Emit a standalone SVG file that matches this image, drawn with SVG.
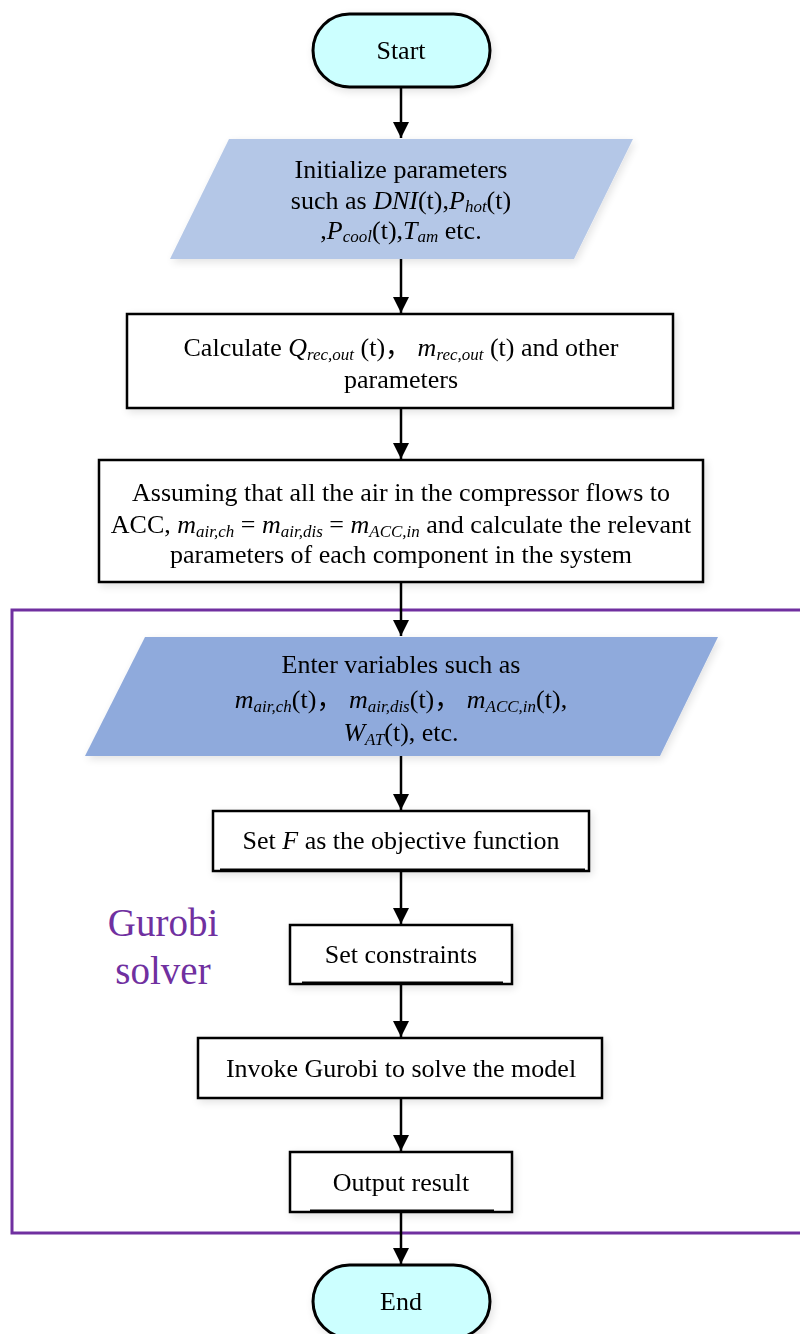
<svg xmlns="http://www.w3.org/2000/svg" width="800" height="1334" viewBox="0 0 800 1334">
<style>
text{font-family:"Liberation Serif","Noto Sans CJK SC",serif;font-size:26px;fill:#000;text-anchor:middle}
.i{font-style:italic}
.s{font-size:17px;font-style:italic}
.term{fill:#CCFFFF;stroke:#000;stroke-width:3}
.box{fill:#fff;stroke:#000;stroke-width:2.5}
.conn line{stroke:#000;stroke-width:2.5}
.gur{fill:#7030A0;font-size:39px;text-anchor:middle}
</style>
<defs>
<marker id="ah" markerWidth="16" markerHeight="16" viewBox="0 0 16 16" refX="16" refY="8" orient="auto" markerUnits="userSpaceOnUse">
<path d="M0,0 L16,8 L0,16 Z" fill="#000"/>
</marker>
<filter id="sh" x="-10%" y="-20%" width="120%" height="140%">
<feGaussianBlur in="SourceAlpha" stdDeviation="4"/>
<feOffset dx="2" dy="3"/>
<feComponentTransfer><feFuncA type="linear" slope="0.12"/></feComponentTransfer>
<feMerge><feMergeNode/><feMergeNode in="SourceGraphic"/></feMerge>
</filter>
</defs>
<g id="gurobi-frame">
<rect x="12" y="610" width="800" height="623" fill="none" stroke="#7030A0" stroke-width="3"/>
<text class="gur" x="163" y="936">Gurobi</text>
<text class="gur" x="163" y="984">solver</text>
</g>
<g class="conn" id="connectors">
<line x1="401" y1="88" x2="401" y2="138" marker-end="url(#ah)"/>
<line x1="401" y1="259" x2="401" y2="313" marker-end="url(#ah)"/>
<line x1="401" y1="408" x2="401" y2="459" marker-end="url(#ah)"/>
<line x1="401" y1="582" x2="401" y2="636" marker-end="url(#ah)"/>
<line x1="401" y1="756" x2="401" y2="810" marker-end="url(#ah)"/>
<line x1="401" y1="871" x2="401" y2="924" marker-end="url(#ah)"/>
<line x1="401" y1="984" x2="401" y2="1037" marker-end="url(#ah)"/>
<line x1="401" y1="1098" x2="401" y2="1151" marker-end="url(#ah)"/>
<line x1="401" y1="1212" x2="401" y2="1264" marker-end="url(#ah)"/>
</g>
<g id="start" filter="url(#sh)">
<rect class="term" x="313" y="14" width="177" height="73" rx="36.5"/>
<text x="401" y="59">Start</text>
</g>
<g id="init" filter="url(#sh)">
<polygon points="229,139 633,139 574,259 170,259" fill="#B4C7E7"/>
<text x="401" y="178">Initialize parameters</text>
<text x="401" y="209">such as <tspan class="i">DNI</tspan>(t),<tspan class="i">P</tspan><tspan class="s" dy="3">hot</tspan><tspan dy="-3">(t)</tspan></text>
<text x="401" y="239">,<tspan class="i">P</tspan><tspan class="s" dy="3">cool</tspan><tspan dy="-3">(t),</tspan><tspan class="i">T</tspan><tspan class="s" dy="3">am</tspan><tspan dy="-3"> etc.</tspan></text>
</g>
<g id="calc" filter="url(#sh)">
<rect class="box" x="127" y="314" width="546" height="94"/>
<text x="401" y="356">Calculate <tspan class="i">Q</tspan><tspan class="s" dy="4">rec,out</tspan><tspan dy="-4"> (t)，  </tspan><tspan class="i">m</tspan><tspan class="s" dy="4">rec,out</tspan><tspan dy="-4"> (t) and other</tspan></text>
<text x="401" y="388">parameters</text>
</g>
<g id="assume" filter="url(#sh)">
<rect class="box" x="99" y="460" width="604" height="122"/>
<text x="401" y="501">Assuming that all the air in the compressor flows to</text>
<text x="401" y="533">ACC, <tspan class="i">m</tspan><tspan class="s" dy="4">air,ch</tspan><tspan dy="-4"> = </tspan><tspan class="i">m</tspan><tspan class="s" dy="4">air,dis</tspan><tspan dy="-4"> = </tspan><tspan class="i">m</tspan><tspan class="s" dy="4">ACC,in</tspan><tspan dy="-4"> and calculate the relevant</tspan></text>
<text x="401" y="563">parameters of each component in the system</text>
</g>
<g id="enter" filter="url(#sh)">
<polygon points="145,637 718,637 660,756 85,756" fill="#8FAADC"/>
<text x="401" y="673">Enter variables such as</text>
<text x="401" y="708"><tspan class="i">m</tspan><tspan class="s" dy="4">air,ch</tspan><tspan dy="-4">(t)，  </tspan><tspan class="i">m</tspan><tspan class="s" dy="4">air,dis</tspan><tspan dy="-4">(t)，  </tspan><tspan class="i">m</tspan><tspan class="s" dy="4">ACC,in</tspan><tspan dy="-4">(t),</tspan></text>
<text x="401" y="741"><tspan class="i">W</tspan><tspan class="s" dy="4">AT</tspan><tspan dy="-4">(t), etc.</tspan></text>
</g>
<g id="objective" filter="url(#sh)">
<rect class="box" x="213" y="811" width="376" height="60"/>
<line x1="220" y1="870" x2="585" y2="870" stroke="#000" stroke-width="3"/>
<text x="401" y="849">Set <tspan class="i">F</tspan> as the objective function</text>
</g>
<g id="constraints" filter="url(#sh)">
<rect class="box" x="290" y="925" width="222" height="59"/>
<line x1="302" y1="983" x2="503" y2="983" stroke="#000" stroke-width="3"/>
<text x="401" y="963">Set constraints</text>
</g>
<g id="invoke" filter="url(#sh)">
<rect class="box" x="198" y="1038" width="404" height="60"/>
<text x="401" y="1077">Invoke Gurobi to solve the model</text>
</g>
<g id="output" filter="url(#sh)">
<rect class="box" x="290" y="1152" width="222" height="60"/>
<line x1="310" y1="1211" x2="494" y2="1211" stroke="#000" stroke-width="3"/>
<text x="401" y="1191">Output result</text>
</g>
<g id="end" filter="url(#sh)">
<rect class="term" x="313" y="1265" width="177" height="73" rx="36.5"/>
<text x="401" y="1310">End</text>
</g>
</svg>
